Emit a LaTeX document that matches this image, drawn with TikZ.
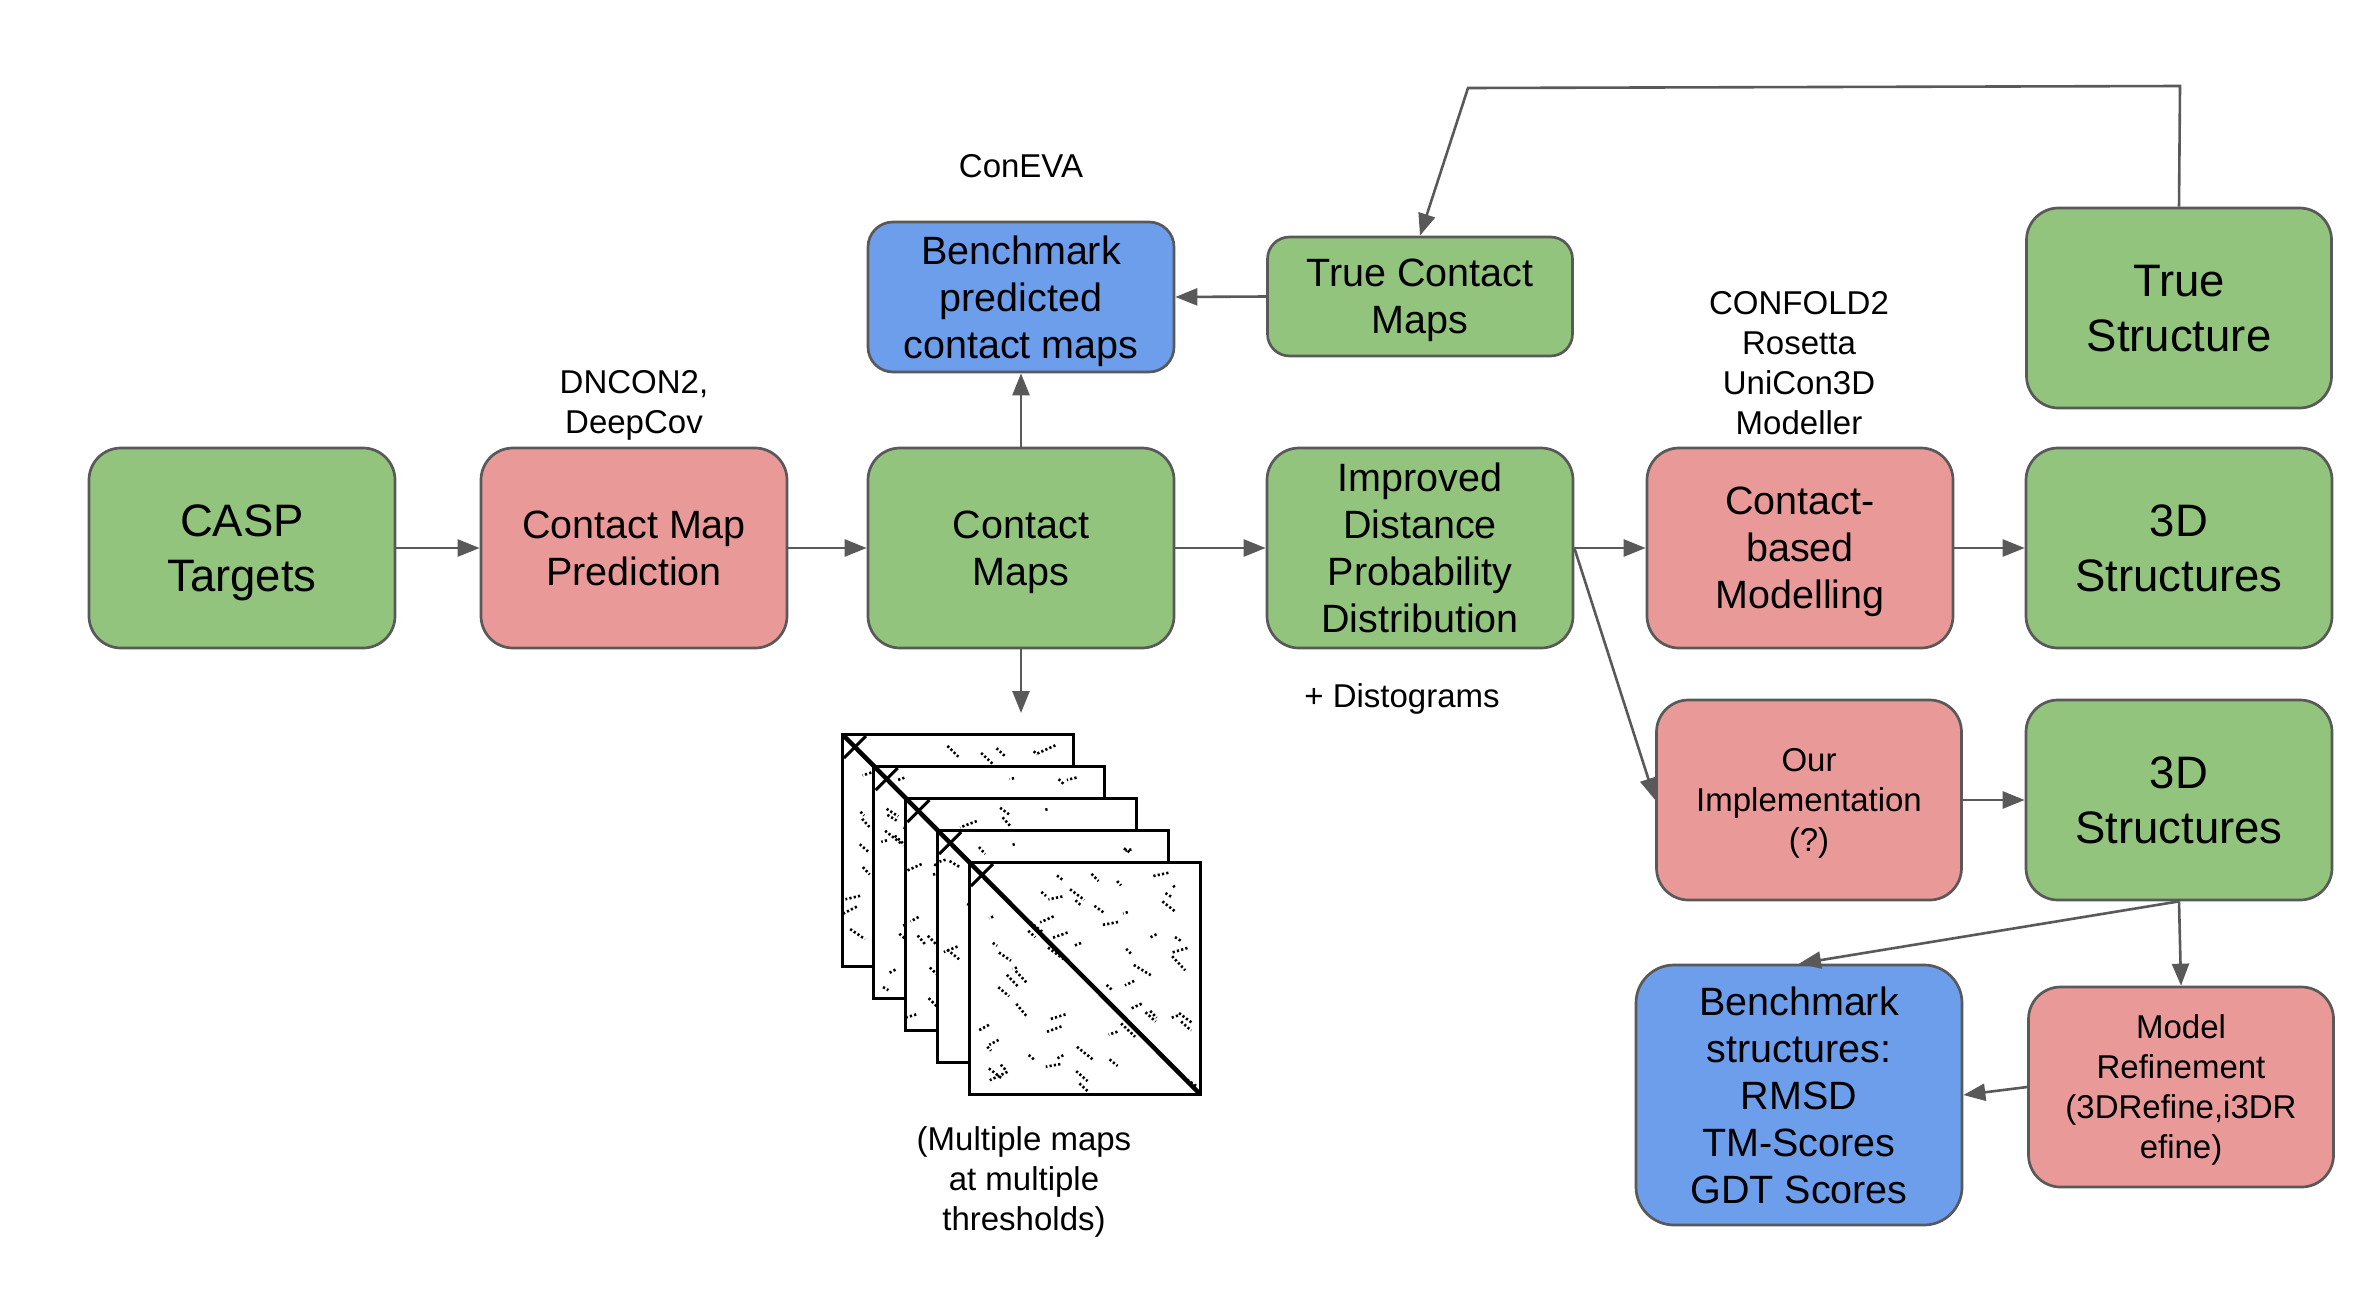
\documentclass[tikz,border=0pt]{standalone}
\usepackage{fontspec}
\setmainfont{Liberation Sans}
\usepackage{tikz}
\usetikzlibrary{arrows.meta}

\definecolor{boxgreen}{HTML}{93C47D}
\definecolor{boxred}{HTML}{EA9999}
\definecolor{boxblue}{HTML}{6D9EEB}
\definecolor{edgegrey}{HTML}{595959}

\tikzset{
    box/.style={draw=edgegrey, line width=2.7pt, rounded corners=32pt, minimum width=306pt, minimum height=200pt, align=center, inner sep=0pt, text depth=0pt},
    greenbox/.style={box, fill=boxgreen},
    redbox/.style={box, fill=boxred},
    bluebox/.style={box, fill=boxblue},
    bigtext/.style={font=\fontsize{45.5}{55}\selectfont},
    midtext/.style={font=\fontsize{39.5}{47}\selectfont},
    smalltext/.style={font=\fontsize{33}{40}\selectfont},
    lbl/.style={smalltext, align=center, inner sep=0pt},
    flow/.style={draw=edgegrey, line width=2.6pt, -{Triangle[length=22pt,width=17pt]}}
}

% one sheet of the stacked contact maps, top left corner at (#1,#2)
\newcommand{\cmapsheet}[2]{%
    \filldraw[fill=white,draw=black,line width=3pt] (#1,#2) rectangle ++(231,232);
    \begin{scope}
        \clip (#1,#2) rectangle ++(231,232);
        \foreach \k in {1,...,60}{%
            \pgfmathsetmacro\cmu{#1+8+214*rnd}%
            \pgfmathsetmacro\cmv{#2+8+214*rnd}%
            \pgfmathsetmacro\cma{30+120*round(rnd)+20*rnd}%
            \pgfmathsetmacro\cml{4+16*rnd}%
            \draw[line width=2.6pt,dash pattern=on 2.2pt off 2.2pt] (\cmu,\cmv) -- ++(\cma:\cml);
        }
        \draw[line width=4.5pt] (#1,#2) -- ++(231,232);
        \draw[line width=3pt] (#1+2,#2+24) -- (#1+24,#2+2);
    \end{scope}
    \draw[black,line width=3pt] (#1,#2) rectangle ++(231,232);
}

\begin{document}
\begin{tikzpicture}[x=1pt,y=-1pt]
    \useasboundingbox (0,0) rectangle (2364,1312);

    % main row
    \node[greenbox,bigtext] (casp) at (242,548) {CASP\\Targets};
    \node[redbox,midtext] (cmp) at (634,548) {Contact Map\\Prediction};
    \node[greenbox,midtext] (cm) at (1021,548) {Contact\\Maps};
    \node[greenbox,midtext] (idp) at (1420,548) {Improved\\Distance\\Probability\\Distribution};
    \node[redbox,midtext] (cbm) at (1800,548) {Contact-\\based\\Modelling};
    \node[greenbox,bigtext] (s3a) at (2179,548) {3D\\Structures};

    % upper boxes
    \node[bluebox,midtext,minimum height=150pt,rounded corners=25pt] (bpc) at (1021,297) {Benchmark\\predicted\\contact maps};
    \node[greenbox,midtext,minimum width=305pt,minimum height=119pt,rounded corners=22pt] (tcm) at (1420,296.5) {True Contact\\Maps};
    \node[greenbox,bigtext,minimum width=305pt] (ts) at (2179,308) {True\\Structure};

    % lower boxes
    \node[redbox,smalltext,minimum width=305pt] (oi) at (1809,800) {Our\\Implementation\\(?)};
    \node[greenbox,bigtext] (s3b) at (2179,800) {3D\\Structures};
    \node[bluebox,midtext,minimum width=326pt,minimum height=260pt,rounded corners=38pt] (bs) at (1799,1095) {Benchmark\\structures:\\RMSD\\TM-Scores\\GDT Scores};
    \node[redbox,smalltext,minimum width=305pt] (mr) at (2181,1087) {Model\\Refinement\\(3DRefine,i3DR\\efine)};

    % tool labels
    \node[lbl,anchor=base] (coneva) at (1021,177) {ConEVA};
    \node[lbl,anchor=north] (dncon) at (634,370) {DNCON2,\\DeepCov};
    \node[lbl,anchor=north] (confold) at (1799,291) {CONFOLD2\\Rosetta\\UniCon3D\\Modeller};
    \node[lbl,anchor=base] (disto) at (1402,707) {+ Distograms};
    \node[lbl,anchor=north] (multi) at (1024,1126) {(Multiple maps\\at multiple\\thresholds)};

    % stacked contact maps
    \pgfmathsetseed{11}
    \foreach \i in {0,...,4}{
        \pgfmathsetmacro\sx{842+31.75*\i}
        \pgfmathsetmacro\sy{734+32*\i}
        \cmapsheet{\sx}{\sy}
    }
    \coordinate (maptop) at (1021,713);

    % connectors
    \draw[flow] (casp.east) -- (cmp.west);
    \draw[flow] (cmp.east) -- (cm.west);
    \draw[flow] (cm.east) -- (idp.west);
    \draw[flow] (idp.east) -- (cbm.west);
    \draw[flow] (cbm.east) -- (s3a.west);
    \draw[flow] (cm.north) -- (bpc.south);
    \draw[flow] (tcm.west) -- (bpc.east);
    \draw[flow] (cm.south) -- (maptop);
    \draw[flow] (idp.east) -- (oi.west);
    \draw[flow] (oi.east) -- (s3b.west);
    \draw[flow] (s3b.south) -- (bs.north);
    \draw[flow] (s3b.south) -- (mr.north);
    \draw[flow] (mr.west) -- (bs.east);
    \coordinate (loopr) at (2180,86);
    \coordinate (loopl) at (1468,88);
    \draw[flow] (ts.north) -- (loopr) -- (loopl) -- (tcm.north);
\end{tikzpicture}
\end{document}
